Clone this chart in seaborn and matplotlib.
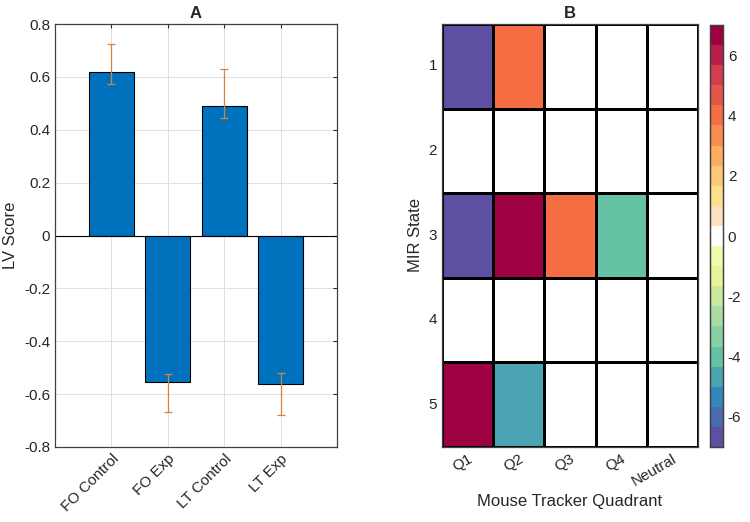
import numpy as np
import matplotlib
matplotlib.use('Agg')
import matplotlib.pyplot as plt
import seaborn as sns
import pandas as pd
from matplotlib.colors import ListedColormap

# 数据 - 左图 (LV Score)
groups = ['FO Control', 'FO Exp', 'LT Control', 'LT Exp']
lv_score = [0.620, -0.553, 0.489, -0.562]
err_lower = [0.573, -0.667, 0.443, -0.680]
err_upper = [0.724, -0.524, 0.628, -0.520]

# 数据 - 右图 (热图)
quadrants = ['Q1', 'Q2', 'Q3', 'Q4', 'Neutral']
mir_states = ['1', '2', '3', '4', '5']
heat_vals = [
    [-7.0, 4.0, 0, 0, 0],
    [0, 0, 0, 0, 0],
    [-7.0, 6.8, 4.0, -4.0, 0],
    [0, 0, 0, 0, 0],
    [6.6, -5.0, 0, 0, 0],
]

sns.set_style('white')
plt.rcParams['font.family'] = ['Liberation Sans', 'DejaVu Sans']
txt = '#262626'
plt.rcParams['text.color'] = txt
plt.rcParams['axes.labelcolor'] = txt
plt.rcParams['xtick.color'] = txt
plt.rcParams['ytick.color'] = txt

fig = plt.figure(figsize=(7.5, 5.22), dpi=100)
W, H = 750, 522


def px_axes(x0, y0, x1, y1):
    return fig.add_axes([x0 / W, 1 - y1 / H, (x1 - x0) / W, (y1 - y0) / H])


# 1. 柱状图
ax1 = px_axes(55, 24, 337, 447)
df = pd.DataFrame({'group': groups, 'score': lv_score})
sns.barplot(data=df, x='group', y='score', color='#0072bd', saturation=1,
            edgecolor='black', linewidth=0.8, width=0.8, errorbar=None, ax=ax1, zorder=2)
ax1.axhline(0, color='black', linewidth=0.8, zorder=2.5)
yerr = [np.array(lv_score) - np.array(err_lower), np.array(err_upper) - np.array(lv_score)]
ax1.errorbar(range(len(groups)), lv_score, yerr=yerr, fmt='none', ecolor='#d9823f',
             elinewidth=0.9, capsize=3, capthick=0.9, zorder=3)
ax1.set_xlim(-1, 4)
ax1.set_ylim(-0.8, 0.8)
ax1.set_yticks(np.arange(-0.8, 0.81, 0.2))
ax1.set_yticklabels(['-0.8', '-0.6', '-0.4', '-0.2', '0', '0.2', '0.4', '0.6', '0.8'])
ax1.set_xticks(range(len(groups)))
ax1.set_xticklabels(groups, rotation=45, ha='right', rotation_mode='anchor')
ax1.set_xlabel('')
ax1.set_ylabel('LV Score', fontsize=12)
ax1.set_title('A', fontweight='bold', fontsize=12, pad=4)
ax1.grid(True, color='#e0e0e0', linewidth=0.7, zorder=0)
ax1.set_axisbelow(True)
ax1.tick_params(direction='in', top=True, right=True, length=3, labelsize=11, width=0.8)
for s in ax1.spines.values():
    s.set_color('#404040')
    s.set_linewidth(0.9)

# 2. 热图
base = plt.get_cmap('Spectral_r')(np.linspace(0, 1, 21))
base[10] = [1, 1, 1, 1]
base[11] = [0.996, 0.88, 0.75, 1]
cmap = ListedColormap(base)

ax2 = px_axes(442, 24, 698, 447)
cax = px_axes(710, 25, 723, 447)
hm = pd.DataFrame(heat_vals, index=mir_states, columns=quadrants)
sns.heatmap(hm, cmap=cmap, vmin=-7, vmax=7, linewidths=0.8, linecolor='black',
            ax=ax2, cbar_ax=cax, cbar_kws={'ticks': [-6, -4, -2, 0, 2, 4, 6]})
ax2.set_title('B', fontweight='bold', fontsize=12, pad=4)
ax2.set_xlabel('Mouse Tracker Quadrant', fontsize=12)
ax2.set_ylabel('MIR State', fontsize=12)
ax2.set_xticklabels(quadrants, rotation=30, ha='right', rotation_mode='anchor')
ax2.set_yticklabels(mir_states, rotation=0)
ax2.tick_params(direction='in', top=True, right=True, length=3, labelsize=11, width=0.8)
for s in ax2.spines.values():
    s.set_visible(True)
    s.set_color('#404040')
    s.set_linewidth(0.9)
cax.tick_params(direction='in', length=3, labelsize=11, width=0.8)
cax.set_yticklabels(['-6', '-4', '-2', '0', '2', '4', '6'])
for s in cax.spines.values():
    s.set_visible(True)
    s.set_color('#404040')
    s.set_linewidth(0.9)

fig.savefig('out.png', dpi=100)
